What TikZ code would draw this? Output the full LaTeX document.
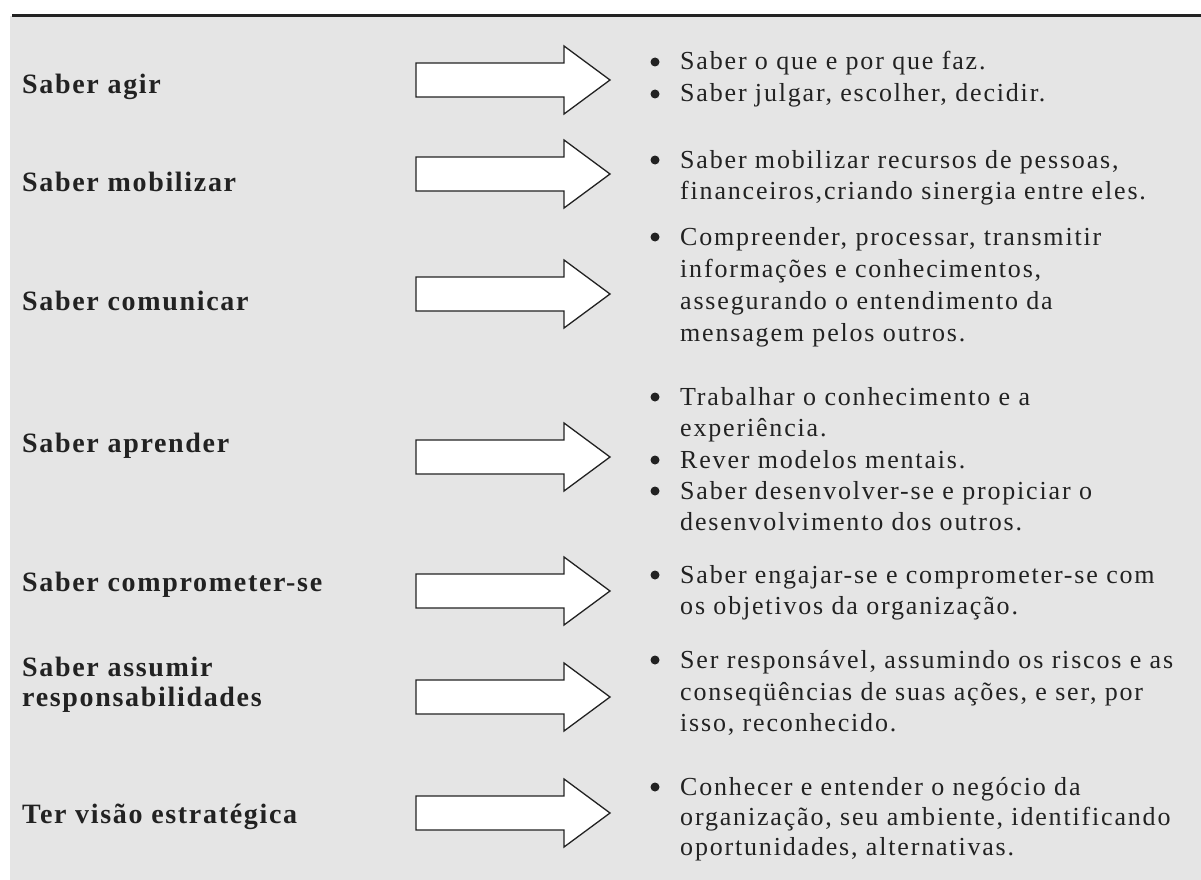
\documentclass[tikz,border=0pt]{standalone}
\usepackage{fontspec}
\setmainfont{Liberation Serif}
\newfontfamily\rfont[LetterSpace=7]{Liberation Serif}
\newfontfamily\bfont[LetterSpace=6]{Liberation Serif Bold}
\definecolor{bg}{HTML}{E5E5E5}
\definecolor{ink}{HTML}{222222}
\begin{document}
\begin{tikzpicture}[x=1pt,y=-1pt,
  lbl/.style={anchor=base west, inner sep=0pt, font=\bfont\fontsize{28}{33}\selectfont, text=ink},
  txt/.style={anchor=base west, inner sep=0pt, font=\rfont\fontsize{26}{31}\selectfont, text=ink},
  bul/.style={circle, fill=ink, inner sep=0pt, minimum size=9pt},
  blockarrow/.style={draw=ink, fill=white, line width=1.3pt, line join=miter}]
\useasboundingbox (0,0) rectangle (1201,880);
\fill[bg] (10,16.5) rectangle (1201,880);
\draw[ink, line width=2.8pt] (12,15.3) -- (1201,15.3);
% block arrows
\foreach \c in {80,174,294,457,591,697,813}{
  \draw[blockarrow] (416,\c-17) -- (564,\c-17) -- (564,\c-34) -- (610,\c)
    -- (564,\c+34) -- (564,\c+17) -- (416,\c+17) -- cycle;
}
% left labels
\node[lbl] (l1) at (22,94) {Saber agir};
\node[lbl] (l2) at (22,191) {Saber mobilizar};
\node[lbl] (l3) at (22,310) {Saber comunicar};
\node[lbl] (l4) at (22,452) {Saber aprender};
\node[lbl] (l5) at (22,591) {Saber comprometer-se};
\node[lbl] (l6a) at (22,676) {Saber assumir};
\node[lbl] (l6b) at (22,706) {responsabilidades};
\node[lbl] (l7) at (22,823) {Ter visão estratégica};
% item 1
\node[bul] (b1a) at (655,62) {};
\node[txt] (t1a) at (680,70) {Saber o que e por que faz.};
\node[bul] (b1b) at (655,94) {};
\node[txt] (t1b) at (680,102) {Saber julgar, escolher, decidir.};
% item 2
\node[bul] (b2) at (655,160) {};
\node[txt] (t2a) at (680,168) {Saber mobilizar recursos de pessoas,};
\node[txt] (t2b) at (680,199) {financeiros,criando sinergia entre eles.};
% item 3
\node[bul] (b3) at (655,237) {};
\node[txt] (t3a) at (680,245) {Compreender, processar, transmitir};
\node[txt] (t3b) at (680,277) {informações e conhecimentos,};
\node[txt] (t3c) at (680,309) {assegurando o entendimento da};
\node[txt] (t3d) at (680,341) {mensagem pelos outros.};
% item 4
\node[bul] (b4a) at (655,397) {};
\node[txt] (t4a) at (680,405) {Trabalhar o conhecimento e a};
\node[txt] (t4b) at (680,436) {experiência.};
\node[bul] (b4b) at (655,460) {};
\node[txt] (t4c) at (680,468) {Rever modelos mentais.};
\node[bul] (b4c) at (655,491) {};
\node[txt] (t4d) at (680,499) {Saber desenvolver-se e propiciar o};
\node[txt] (t4e) at (680,530) {desenvolvimento dos outros.};
% item 5
\node[bul] (b5) at (655,575) {};
\node[txt] (t5a) at (680,583) {Saber engajar-se e comprometer-se com};
\node[txt] (t5b) at (680,614) {os objetivos da organização.};
% item 6
\node[bul] (b6) at (655,660) {};
\node[txt] (t6a) at (680,668) {Ser responsável, assumindo os riscos e as};
\node[txt] (t6b) at (680,700) {conseqüências de suas ações, e ser, por};
\node[txt] (t6c) at (680,731) {isso, reconhecido.};
% item 7
\node[bul] (b7) at (655,787) {};
\node[txt] (t7a) at (680,795) {Conhecer e entender o negócio da};
\node[txt] (t7b) at (680,825) {organização, seu ambiente, identificando};
\node[txt] (t7c) at (680,855) {oportunidades, alternativas.};
\end{tikzpicture}
\end{document}
